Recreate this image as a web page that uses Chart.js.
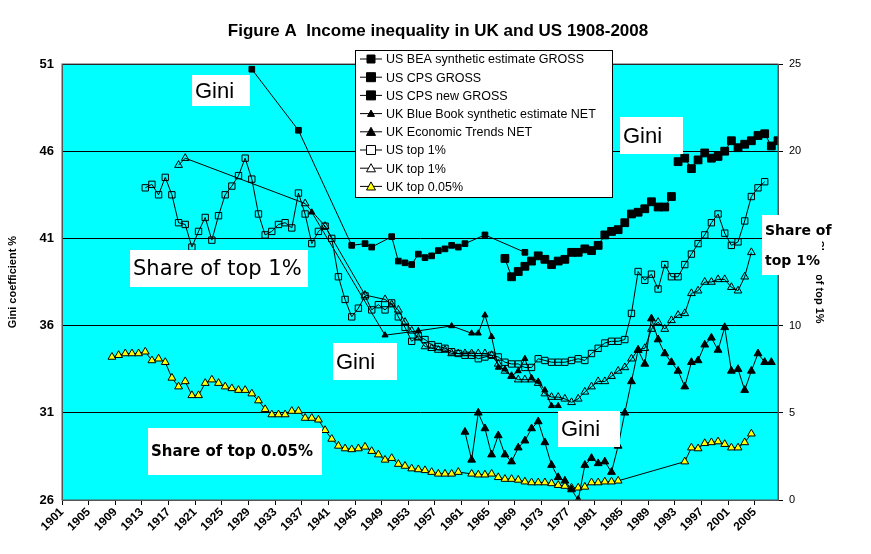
<!DOCTYPE html>
<html>
<head>
<meta charset="utf-8">
<script src="https://cdn.jsdelivr.net/npm/chart.js@4"></script>
<style>
  body { margin: 0; background: #fff; }
  #wrap { width: 871px; height: 554px; }
</style>
</head>
<body>
<div id="wrap"><canvas id="chart"></canvas></div>
<script>
// Gini series (left axis, %)
const beaYears = [1929, 1936, 1944, 1946, 1947, 1950, 1951, 1952, 1953, 1954, 1955, 1956, 1957, 1958, 1959, 1960, 1961, 1964, 1970];
const beaGini = [50.7, 47.2, 40.6, 40.7, 40.5, 41.1, 39.7, 39.6, 39.5, 40.1, 39.9, 40.0, 40.3, 40.4, 40.6, 40.5, 40.7, 41.2, 40.2];

const cpsYears = [1967, 1968, 1969, 1970, 1971, 1972, 1973, 1974, 1975, 1976, 1977, 1978, 1979, 1980, 1981, 1982, 1983, 1984, 1985, 1986, 1987, 1988, 1989, 1990, 1991, 1992];
const cpsGini = [39.85, 38.8, 39.1, 39.4, 39.7, 40.0, 39.8, 39.5, 39.7, 39.8, 40.2, 40.2, 40.4, 40.3, 40.6, 41.2, 41.4, 41.5, 41.9, 42.4, 42.5, 42.7, 43.1, 42.8, 42.8, 43.4];

const cpsNewYears = [1993, 1994, 1995, 1996, 1997, 1998, 1999, 2000, 2001, 2002, 2003, 2004, 2005, 2006, 2007, 2008];
const cpsNewGini = [45.4, 45.6, 45.0, 45.5, 45.9, 45.6, 45.7, 46.0, 46.6, 46.2, 46.4, 46.6, 46.9, 47.0, 46.3, 46.6];

const blueBookYears = [1938, 1949, 1954, 1959, 1962, 1963, 1964, 1965, 1966, 1967, 1968, 1969, 1970, 1971, 1972, 1973, 1974, 1975];
const blueBookGini = [42.5, 35.45, 35.7, 35.98, 35.56, 35.56, 36.6, 35.36, 33.6, 33.5, 33.1, 33.4, 34.1, 33.0, 32.8, 32.3, 31.4, 31.4];

const etYears = [1961, 1962, 1963, 1964, 1965, 1966, 1967, 1968, 1969, 1970, 1971, 1972, 1973, 1974, 1975, 1976, 1977, 1978, 1979, 1980, 1981, 1982, 1983, 1984, 1985, 1986, 1987, 1988, 1989, 1990, 1991, 1992, 1993, 1994, 1995, 1996, 1997, 1998, 1999, 2000, 2001, 2002, 2003, 2004, 2005, 2006, 2007];
const etGini = [29.9, 28.3, 31.0, 30.1, 28.6, 29.7, 28.6, 28.2, 29.0, 29.4, 30.1, 30.5, 29.3, 28.0, 27.3, 27.1, 26.6, 26.0, 28.0, 28.4, 28.1, 28.2, 27.6, 29.1, 31.0, 32.8, 34.6, 33.8, 36.4, 35.2, 34.4, 33.9, 33.4, 32.5, 33.9, 34.0, 34.9, 35.3, 34.6, 35.9, 33.4, 33.5, 32.3, 33.4, 34.4, 33.9, 33.9];

// Top income shares (right axis, %)
const usTopYears = [1913, 1914, 1915, 1916, 1917, 1918, 1919, 1920, 1921, 1922, 1923, 1924, 1925, 1926, 1927, 1928, 1929, 1930, 1931, 1932, 1933, 1934, 1935, 1936, 1937, 1938, 1939, 1940, 1941, 1942, 1943, 1944, 1945, 1946, 1947, 1948, 1949, 1950, 1951, 1952, 1953, 1954, 1955, 1956, 1957, 1958, 1959, 1960, 1961, 1962, 1963, 1964, 1965, 1966, 1967, 1968, 1969, 1970, 1971, 1972, 1973, 1974, 1975, 1976, 1977, 1978, 1979, 1980, 1981, 1982, 1983, 1984, 1985, 1986, 1987, 1988, 1989, 1990, 1991, 1992, 1993, 1994, 1995, 1996, 1997, 1998, 1999, 2000, 2001, 2002, 2003, 2004, 2005, 2006];
const usTop1 = [17.9, 18.1, 17.5, 18.5, 17.5, 15.9, 15.8, 14.5, 15.4, 16.2, 14.9, 16.3, 17.5, 18.0, 18.6, 19.6, 18.4, 16.4, 15.2, 15.4, 15.8, 15.9, 15.6, 17.6, 16.4, 14.7, 15.4, 15.7, 15.0, 12.8, 11.5, 10.5, 11.0, 11.7, 10.9, 11.2, 10.9, 11.3, 10.5, 9.9, 9.1, 9.4, 9.2, 8.9, 8.8, 8.7, 8.5, 8.4, 8.3, 8.3, 8.1, 8.2, 8.3, 8.2, 7.9, 7.8, 7.8, 7.6, 7.6, 8.1, 8.0, 7.9, 7.9, 7.9, 8.0, 8.1, 8.0, 8.4, 8.7, 9.0, 9.1, 9.1, 9.2, 10.7, 13.1, 12.6, 12.95, 12.1, 13.5, 12.8, 12.8, 13.5, 14.1, 14.7, 15.2, 15.9, 16.4, 15.3, 14.6, 14.8, 16.0, 17.4, 17.9, 18.25];

const ukTopYears = [1918, 1919, 1937, 1940, 1946, 1949, 1950, 1951, 1952, 1953, 1954, 1955, 1956, 1957, 1958, 1959, 1960, 1961, 1962, 1963, 1964, 1965, 1966, 1967, 1968, 1969, 1970, 1971, 1972, 1973, 1974, 1975, 1976, 1977, 1978, 1979, 1980, 1981, 1982, 1983, 1984, 1985, 1986, 1987, 1988, 1989, 1990, 1991, 1992, 1993, 1994, 1995, 1996, 1997, 1998, 1999, 2000, 2001, 2002, 2003, 2004];
const ukTop1 = [19.2, 19.6, 17.0, 15.7, 11.75, 11.5, 11.2, 10.9, 10.2, 9.7, 9.3, 8.8, 8.7, 8.6, 8.6, 8.4, 8.4, 8.4, 8.4, 8.4, 8.4, 8.3, 7.8, 7.4, 7.1, 6.9, 6.9, 6.9, 6.7, 6.1, 5.9, 5.9, 5.8, 5.6, 5.8, 6.2, 6.5, 6.8, 6.8, 7.1, 7.4, 7.6, 8.1, 8.6, 8.7, 9.8, 10.2, 9.8, 10.3, 10.6, 10.7, 11.85, 12.0, 12.5, 12.5, 12.65, 12.65, 12.2, 12.0, 12.8, 14.2];

const ukTop005Years = [1908, 1909, 1910, 1911, 1912, 1913, 1914, 1915, 1916, 1917, 1918, 1919, 1920, 1921, 1922, 1923, 1924, 1925, 1926, 1927, 1928, 1929, 1930, 1931, 1932, 1933, 1934, 1935, 1936, 1937, 1938, 1939, 1940, 1941, 1942, 1943, 1944, 1945, 1946, 1947, 1948, 1949, 1950, 1951, 1952, 1953, 1954, 1955, 1956, 1957, 1958, 1959, 1960, 1962, 1963, 1964, 1965, 1966, 1967, 1968, 1969, 1970, 1971, 1972, 1973, 1974, 1975, 1976, 1977, 1978, 1979, 1980, 1981, 1982, 1983, 1984, 1994, 1995, 1996, 1997, 1998, 1999, 2000, 2001, 2002, 2003, 2004];
const ukTop005 = [8.2, 8.3, 8.4, 8.4, 8.4, 8.5, 8.0, 8.1, 7.9, 7.0, 6.5, 6.8, 6.0, 6.0, 6.7, 6.9, 6.7, 6.5, 6.4, 6.3, 6.3, 6.1, 5.7, 5.2, 4.9, 4.9, 4.9, 5.1, 5.1, 4.7, 4.7, 4.6, 4.0, 3.5, 3.1, 2.95, 2.9, 2.95, 3.05, 2.8, 2.6, 2.3, 2.4, 2.06, 1.95, 1.8, 1.75, 1.7, 1.6, 1.5, 1.5, 1.5, 1.6, 1.5, 1.45, 1.45, 1.5, 1.3, 1.2, 1.2, 1.15, 1.05, 1.0, 1.0, 1.0, 0.95, 0.85, 0.8, 0.7, 0.7, 0.75, 1.0, 1.0, 1.05, 1.05, 1.1, 2.2, 3.0, 2.95, 3.25, 3.3, 3.35, 3.2, 3.0, 3.0, 3.3, 3.8];

const giniTicks = [26, 31, 36, 41, 46, 51];
const yearTicks = [1901, 1905, 1909, 1913, 1917, 1921, 1925, 1929, 1933, 1937, 1941, 1945, 1949, 1953, 1957, 1961, 1965, 1969, 1973, 1977, 1981, 1985, 1989, 1993, 1997, 2001, 2005];

function pts(xs, ys) {
    return xs.map((x, i) => ({ x: x, y: ys[i] }));
}

function series(label, xs, ys, axis, style) {
    return Object.assign({
        label: label,
        data: pts(xs, ys),
        yAxisID: axis,
        borderColor: '#000',
        borderWidth: 1,
        pointBorderColor: '#000',
        pointBorderWidth: 1,
        showLine: true,
        tension: 0
    }, style);
}

const datasets = [
    series('US BEA synthetic estimate GROSS', beaYears, beaGini, 'y', { pointStyle: 'rect', pointRadius: 4, pointBackgroundColor: '#000' }),
    series('US CPS GROSS', cpsYears, cpsGini, 'y', { pointStyle: 'rect', pointRadius: 5.5, pointBackgroundColor: '#000' }),
    series('US CPS new GROSS', cpsNewYears, cpsNewGini, 'y', { pointStyle: 'rect', pointRadius: 5.5, pointBackgroundColor: '#000' }),
    series('UK Blue Book synthetic estimate NET', blueBookYears, blueBookGini, 'y', { pointStyle: 'triangle', pointRadius: 3.5, pointBackgroundColor: '#000' }),
    series('UK Economic Trends NET', etYears, etGini, 'y', { pointStyle: 'triangle', pointRadius: 4.5, pointBackgroundColor: '#000' }),
    series('US top 1%', usTopYears, usTop1, 'y2', { pointStyle: 'rect', pointRadius: 4.5, pointBackgroundColor: 'rgba(0,0,0,0)' }),
    series('UK top 1%', ukTopYears, ukTop1, 'y2', { pointStyle: 'triangle', pointRadius: 4.5, pointBackgroundColor: 'rgba(0,0,0,0)' }),
    series('UK top 0.05%', ukTop005Years, ukTop005, 'y2', { pointStyle: 'triangle', pointRadius: 4.5, pointBackgroundColor: '#ffff00' })
];

// text boxes on the chart: [text lines, left, top, width, height, font]
const notes = [
    [['Gini'], 192, 75, 58, 31, '22px "Liberation Sans"'],
    [['Share of top 1%'], 130, 250, 178, 37, '21px "DejaVu Sans"'],
    [['Gini'], 333, 343, 64, 37, '22px "Liberation Sans"'],
    [['Share of top 0.05%'], 148, 428, 174, 47, 'bold 15px "DejaVu Sans"'],
    [['Gini'], 558, 411, 62, 36, '22px "Liberation Sans"'],
    [['Gini'], 620, 117, 63, 37, '22px "Liberation Sans"'],
    [['Share of', 'top 1%'], 762, 215, 60, 60, 'bold 14px "DejaVu Sans"']
];

const backdrop = {
    id: 'backdrop',
    beforeDraw(chart) {
        const a = chart.chartArea, ctx = chart.ctx;
        ctx.save();
        ctx.fillStyle = '#00ffff';
        ctx.fillRect(a.left, a.top, a.right - a.left, a.bottom - a.top);
        ctx.restore();
    },
    afterDraw(chart) {
        const a = chart.chartArea, ctx = chart.ctx;
        ctx.save();
        ctx.strokeStyle = '#555';
        ctx.lineWidth = 1;
        ctx.strokeRect(a.left, a.top, a.right - a.left, a.bottom - a.top);

        // title
        ctx.fillStyle = '#000';
        ctx.font = 'bold 17px "Liberation Sans", Arial';
        ctx.textAlign = 'center';
        ctx.textBaseline = 'middle';
        ctx.fillText('Figure A  Income inequality in UK and US 1908-2008', 438, 31);

        // notes
        notes.forEach(n => {
            ctx.fillStyle = '#fff';
            ctx.fillRect(n[1], n[2], n[3], n[4]);
            ctx.fillStyle = '#000';
            ctx.font = n[5];
            ctx.textAlign = 'left';
            const lh = n[4] / n[0].length;
            n[0].forEach((t, i) => ctx.fillText(t, n[1] + 3, n[2] + lh * (i + 0.5) + 1));
        });

        // legend box
        const lx = 355, ly = 50, lw = 257, lh = 147, row = 18.2;
        ctx.fillStyle = '#fff';
        ctx.fillRect(lx, ly, lw, lh);
        ctx.strokeStyle = '#000';
        ctx.strokeRect(lx + 0.5, ly + 0.5, lw, lh);
        ctx.font = '12.5px "Liberation Sans", Arial';
        chart.data.datasets.forEach((d, i) => {
            const y = ly + 9 + i * row;
            ctx.strokeStyle = '#000';
            ctx.beginPath();
            ctx.moveTo(lx + 5, y);
            ctx.lineTo(lx + 27, y);
            ctx.stroke();
            const r = Math.min(d.pointRadius, 4.5);
            ctx.fillStyle = d.pointBackgroundColor === 'rgba(0,0,0,0)' ? '#fff' : d.pointBackgroundColor;
            ctx.beginPath();
            if (d.pointStyle === 'rect') {
                ctx.rect(lx + 16 - r, y - r, 2 * r, 2 * r);
            } else {
                ctx.moveTo(lx + 16, y - r);
                ctx.lineTo(lx + 16 + r, y + r * 0.8);
                ctx.lineTo(lx + 16 - r, y + r * 0.8);
                ctx.closePath();
            }
            ctx.fill();
            ctx.stroke();
            ctx.fillStyle = '#000';
            ctx.textAlign = 'left';
            ctx.fillText(d.label, lx + 31, y + 1);
        });
        ctx.restore();
    }
};

new Chart(document.getElementById('chart'), {
    type: 'scatter',
    data: { datasets: datasets },
    options: {
        responsive: true,
        maintainAspectRatio: false,
        animation: false,
        layout: { padding: { top: 64, left: 6, right: 45, bottom: 0 } },
        plugins: {
            legend: { display: false },
            title: { display: false },
            tooltip: { enabled: false }
        },
        scales: {
            x: {
                type: 'linear',
                min: 1900.5,
                max: 2008,
                afterBuildTicks: s => { s.ticks = yearTicks.map(v => ({ value: v - 0.5 })); },
                afterFit: s => { s.height = 54; },
                grid: { drawOnChartArea: false, color: '#000', tickLength: 5 },
                border: { color: '#555' },
                ticks: {
                    callback: v => v + 0.5,
                    autoSkip: false,
                    minRotation: 45,
                    maxRotation: 45,
                    padding: 0,
                    color: '#000',
                    font: { family: '"Liberation Sans", Arial', size: 12, weight: 'bold' }
                }
            },
            y: {
                position: 'left',
                min: 26,
                max: 51,
                afterBuildTicks: s => { s.ticks = giniTicks.map(v => ({ value: v })); },
                afterFit: s => { s.width = 56; },
                grid: { color: '#000', drawTicks: false },
                border: { color: '#555' },
                title: {
                    display: true,
                    text: 'Gini coefficient %',
                    color: '#000',
                    padding: 0,
                    font: { family: '"Liberation Sans", Arial', size: 11, weight: 'bold' }
                },
                ticks: {
                    padding: 8,
                    color: '#000',
                    font: { family: '"Liberation Sans", Arial', size: 13, weight: 'bold' }
                }
            },
            y2: {
                position: 'right',
                min: 0,
                max: 25,
                afterFit: s => { s.width = 48; },
                grid: { drawOnChartArea: false, color: '#000', tickLength: 5 },
                border: { color: '#555' },
                title: {
                    display: true,
                    text: 'Share of top 1%',
                    color: '#000',
                    padding: 0,
                    font: { family: '"Liberation Sans", Arial', size: 11, weight: 'bold' }
                },
                ticks: {
                    stepSize: 5,
                    padding: 6,
                    color: '#000',
                    font: { family: '"Liberation Sans", Arial', size: 11 }
                }
            }
        }
    },
    plugins: [backdrop]
});
</script>
</body>
</html>
